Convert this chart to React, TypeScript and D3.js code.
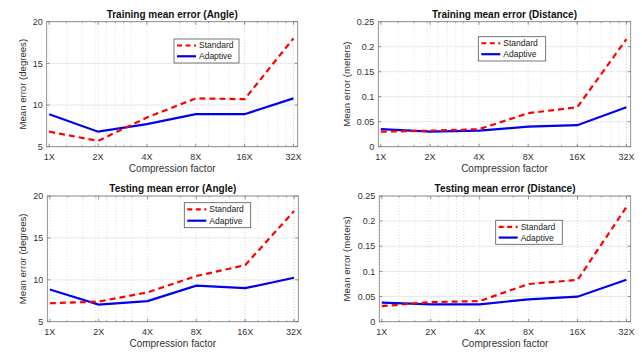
import React from "react";
import * as d3 from "d3";

// compression factors on the x axis
const factors = [1, 2, 4, 8, 16, 32];
const factorLabels = ["1X", "2X", "4X", "8X", "16X", "32X"];

// mean error values
const trainAngleStd = [6.8, 5.7, 8.5, 10.8, 10.7, 18.0];
const trainAngleAda = [8.9, 6.8, 7.7, 8.9, 8.9, 10.8];
const trainDistStd = [0.03, 0.032, 0.035, 0.067, 0.079, 0.215];
const trainDistAda = [0.035, 0.03, 0.032, 0.04, 0.043, 0.079];
const testAngleStd = [7.2, 7.4, 8.5, 10.45, 11.75, 18.2];
const testAngleAda = [8.85, 7.05, 7.45, 9.3, 9.0, 10.25];
const testDistStd = [0.031, 0.039, 0.041, 0.075, 0.083, 0.228];
const testDistAda = [0.038, 0.0345, 0.0345, 0.0445, 0.0497, 0.0836];

const angleTicks = [5, 10, 15, 20];
const distTicks = [0, 0.05, 0.1, 0.15, 0.2, 0.25];

const seriesNames = ["Standard", "Adaptive"];

const FONT = "'Liberation Sans', Arial, Helvetica, sans-serif";

type PanelProps = {
  title: string;
  yLabel: string;
  yTicks: number[];
  std: number[];
  ada: number[];
  box: { x0: number; x1: number; y0: number; y1: number };
  legend: { x: number; y: number; w: number; h: number };
  yLabelX: number;
};

const Panel = ({ title, yLabel, yTicks, std, ada, box, legend, yLabelX }: PanelProps) => {
  const x = d3.scaleLog().domain([0.965, 34]).range([box.x0, box.x1]);
  const y = d3
    .scaleLinear()
    .domain([yTicks[0], yTicks[yTicks.length - 1]])
    .range([box.y1, box.y0]);

  // minor grid (log10 minor ticks of the underlying ratio)
  const minor: number[] = [];
  [0.32, 3.2].forEach((base) => {
    for (let k = 2; k <= 10; k++) {
      const v = base * k;
      if (v > x.domain()[0] && v < x.domain()[1]) minor.push(v);
    }
  });

  const line = d3
    .line<number>()
    .x((_, i) => x(factors[i]))
    .y((d) => y(d));

  const cx = (box.x0 + box.x1) / 2;
  const cy = (box.y0 + box.y1) / 2;

  return (
    <g fontFamily={FONT}>
      <rect x={box.x0} y={box.y0} width={box.x1 - box.x0} height={box.y1 - box.y0} fill="#fff" />
      {/* grid */}
      {minor.map((v, i) => (
        <line key={"m" + i} x1={x(v)} x2={x(v)} y1={box.y0} y2={box.y1} stroke="#d4d4d4" strokeWidth={0.7} strokeDasharray="1,2" />
      ))}
      {factors.map((v, i) => (
        <line key={"g" + i} x1={x(v)} x2={x(v)} y1={box.y0} y2={box.y1} stroke="#d0d0d0" strokeWidth={0.7} strokeDasharray="1,2" />
      ))}
      {yTicks.map((v, i) => (
        <line key={"gy" + i} x1={box.x0} x2={box.x1} y1={y(v)} y2={y(v)} stroke="#e2e2e2" strokeWidth={0.8} />
      ))}

      {/* data */}
      <path d={line(ada) || ""} fill="none" stroke="#0000f0" strokeWidth={2.2} />
      <path d={line(std) || ""} fill="none" stroke="#ff0000" strokeWidth={2.2} strokeDasharray="6,4" />

      {/* axes box and ticks */}
      <rect x={box.x0} y={box.y0} width={box.x1 - box.x0} height={box.y1 - box.y0} fill="none" stroke="#7a7a7a" strokeWidth={0.8} />
      {factors.map((v, i) => (
        <g key={"t" + i}>
          <line x1={x(v)} x2={x(v)} y1={box.y1} y2={box.y1 - 3} stroke="#7a7a7a" strokeWidth={0.8} />
          <line x1={x(v)} x2={x(v)} y1={box.y0} y2={box.y0 + 3} stroke="#7a7a7a" strokeWidth={0.8} />
          <text x={x(v)} y={box.y1 + 13} textAnchor="middle" fontSize={9} fill="#333">
            {factorLabels[i]}
          </text>
        </g>
      ))}
      {minor.map((v, i) => (
        <g key={"mt" + i}>
          <line x1={x(v)} x2={x(v)} y1={box.y1} y2={box.y1 - 1.5} stroke="#7a7a7a" strokeWidth={0.7} />
          <line x1={x(v)} x2={x(v)} y1={box.y0} y2={box.y0 + 1.5} stroke="#7a7a7a" strokeWidth={0.7} />
        </g>
      ))}
      {yTicks.map((v, i) => (
        <g key={"yt" + i}>
          <line x1={box.x0} x2={box.x0 + 3} y1={y(v)} y2={y(v)} stroke="#7a7a7a" strokeWidth={0.8} />
          <line x1={box.x1} x2={box.x1 - 3} y1={y(v)} y2={y(v)} stroke="#7a7a7a" strokeWidth={0.8} />
          <text x={box.x0 - 4} y={y(v)} dy="0.35em" textAnchor="end" fontSize={9} fill="#333">
            {String(v)}
          </text>
        </g>
      ))}

      {/* labels */}
      <text x={cx} y={box.y0 - 4} textAnchor="middle" fontSize={10} fontWeight="bold" fill="#111">
        {title}
      </text>
      <text x={cx} y={box.y1 + 25.5} textAnchor="middle" fontSize={10} fill="#333">
        Compression factor
      </text>
      <text transform={`translate(${yLabelX},${cy}) rotate(-90)`} textAnchor="middle" dy="0.35em" fontSize={9.6} fill="#333">
        {yLabel}
      </text>

      {/* legend */}
      <rect x={legend.x} y={legend.y} width={legend.w} height={legend.h} fill="#fff" stroke="#555" strokeWidth={0.8} />
      {seriesNames.map((name, i) => {
        const ly = legend.y + legend.h * (i === 0 ? 0.27 : 0.72);
        return (
          <g key={name}>
            <line
              x1={legend.x + 3}
              x2={legend.x + 22}
              y1={ly}
              y2={ly}
              stroke={i === 0 ? "#ff0000" : "#0000f0"}
              strokeWidth={2.2}
              strokeDasharray={i === 0 ? "5,3.5" : undefined}
            />
            <text x={legend.x + 25} y={ly} dy="0.35em" fontSize={8.5} fill="#222">
              {name}
            </text>
          </g>
        );
      })}
    </g>
  );
};

const App = () => {
  return (
    <svg width={642} height={352} style={{ position: "absolute", left: 0, top: 0, background: "#fff" }}>
      <rect width={642} height={352} fill="#fff" />
      <Panel
        title="Training mean error (Angle)"
        yLabel="Mean error (degrees)"
        yTicks={angleTicks}
        std={trainAngleStd}
        ada={trainAngleAda}
        box={{ x0: 46.7, x1: 297.7, y0: 21.7, y1: 146.7 }}
        legend={{ x: 174, y: 39, w: 65, h: 24 }}
        yLabelX={22.7}
      />
      <Panel
        title="Training mean error (Distance)"
        yLabel="Mean error (meters)"
        yTicks={distTicks}
        std={trainDistStd}
        ada={trainDistAda}
        box={{ x0: 378.3, x1: 630.7, y0: 21.7, y1: 146.7 }}
        legend={{ x: 478.3, y: 36.7, w: 67.4, h: 24.3 }}
        yLabelX={346.7}
      />
      <Panel
        title="Testing mean error (Angle)"
        yLabel="Mean error (degrees)"
        yTicks={angleTicks}
        std={testAngleStd}
        ada={testAngleAda}
        box={{ x0: 47.3, x1: 298.3, y0: 196, y1: 321.7 }}
        legend={{ x: 184.3, y: 202.7, w: 66.4, h: 25 }}
        yLabelX={22.7}
      />
      <Panel
        title="Testing mean error (Distance)"
        yLabel="Mean error (meters)"
        yTicks={distTicks}
        std={testDistStd}
        ada={testDistAda}
        box={{ x0: 379.3, x1: 630.7, y0: 196, y1: 321.7 }}
        legend={{ x: 495.7, y: 220.3, w: 66.6, h: 24 }}
        yLabelX={346.7}
      />
    </svg>
  );
};

export default App;
